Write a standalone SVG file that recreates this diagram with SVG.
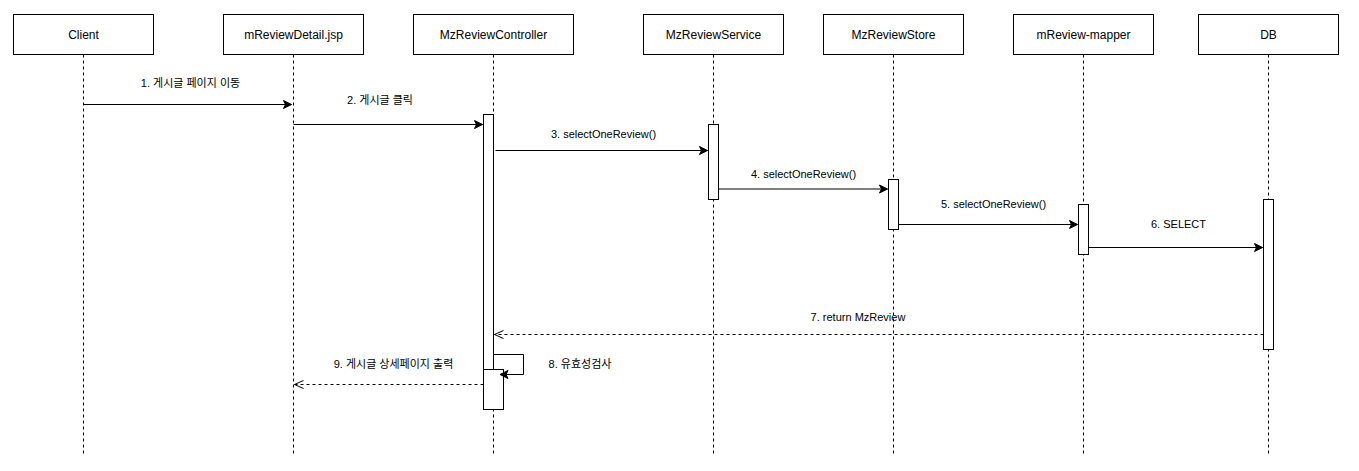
<svg xmlns="http://www.w3.org/2000/svg" width="1359" height="471" viewBox="0 0 1359 471">
<style>
.hdr{fill:#fff;stroke:#000;stroke-width:1}
.ht{font-family:"Liberation Sans","Noto Sans CJK KR",sans-serif;font-size:12px;fill:#000;text-anchor:middle}
.lt{font-family:"Liberation Sans","Noto Sans CJK KR",sans-serif;font-size:11px;fill:#000;text-anchor:middle}
.life{stroke:#000;stroke-width:1;stroke-dasharray:3 3;fill:none}
.act{fill:#fff;stroke:#000;stroke-width:1}
.call{stroke:#000;stroke-width:1;fill:none;marker-end:url(#block)}
.ret{stroke:#000;stroke-width:1;fill:none;stroke-dasharray:3 3;marker-end:url(#open)}
</style>
<defs>
<marker id="block" markerUnits="userSpaceOnUse" markerWidth="10" markerHeight="10" refX="8" refY="4" orient="auto" overflow="visible">
<path d="M0,0 L8,4 L0,8 L2,4 Z" fill="#000" stroke="#000" stroke-width="1"/>
</marker>
<marker id="open" markerUnits="userSpaceOnUse" markerWidth="12" markerHeight="12" refX="9" refY="4" orient="auto" overflow="visible">
<path d="M0,0 L9,4 L0,8" fill="none" stroke="#000" stroke-width="1"/>
</marker>
</defs>
<rect width="1359" height="471" fill="#fff"/>

<g id="lifelines">
<line class="life" x1="83.5" y1="54.5" x2="83.5" y2="453.5"/>
<line class="life" x1="293.5" y1="54.5" x2="293.5" y2="453.5"/>
<line class="life" x1="493.5" y1="54.5" x2="493.5" y2="453.5"/>
<line class="life" x1="713.5" y1="54.5" x2="713.5" y2="453.5"/>
<line class="life" x1="893.5" y1="54.5" x2="893.5" y2="453.5"/>
<line class="life" x1="1083.5" y1="54.5" x2="1083.5" y2="453.5"/>
<line class="life" x1="1268.5" y1="54.5" x2="1268.5" y2="453.5"/>
</g>

<g id="node-client">
<rect class="hdr" x="13.5" y="14.5" width="140" height="40"/>
<text class="ht" x="83.5" y="38.5">Client</text>
</g>
<g id="node-detailjsp">
<rect class="hdr" x="223.5" y="14.5" width="140" height="40"/>
<text class="ht" x="293.5" y="38.5">mReviewDetail.jsp</text>
</g>
<g id="node-controller">
<rect class="hdr" x="413.5" y="14.5" width="160" height="40"/>
<text class="ht" x="493.5" y="38.5">MzReviewController</text>
</g>
<g id="node-service">
<rect class="hdr" x="643.5" y="14.5" width="140" height="40"/>
<text class="ht" x="713.5" y="38.5">MzReviewService</text>
</g>
<g id="node-store">
<rect class="hdr" x="823.5" y="14.5" width="140" height="40"/>
<text class="ht" x="893.5" y="38.5">MzReviewStore</text>
</g>
<g id="node-mapper">
<rect class="hdr" x="1013.5" y="14.5" width="140" height="40"/>
<text class="ht" x="1083.5" y="38.5">mReview-mapper</text>
</g>
<g id="node-db">
<rect class="hdr" x="1198.5" y="14.5" width="140" height="40"/>
<text class="ht" x="1268.5" y="38.5">DB</text>
</g>

<g id="activations">
<rect class="act" x="483.5" y="114.5" width="10" height="255"/>
<rect class="act" x="708.5" y="124.5" width="10" height="75"/>
<rect class="act" x="888.5" y="179.5" width="10" height="50"/>
<rect class="act" x="1078.5" y="204.5" width="10" height="50"/>
<rect class="act" x="1263.5" y="199.5" width="10" height="150"/>
<rect class="act" x="483.5" y="369.5" width="20" height="40"/>
</g>

<g id="connectors">
<line class="call" x1="83.5" y1="104.5" x2="291.5" y2="104.5"/>
<line class="call" x1="293.5" y1="124.5" x2="482.5" y2="124.5"/>
<line class="call" x1="495.5" y1="150.5" x2="707.5" y2="150.5"/>
<line class="call" x1="718.5" y1="189" x2="887.5" y2="189"/>
<line class="call" x1="898.5" y1="224.5" x2="1077.5" y2="224.5"/>
<line class="call" x1="1088.5" y1="247.5" x2="1262.5" y2="247.5"/>
<line class="ret" x1="1263.5" y1="334.5" x2="494.5" y2="334.5"/>
<polyline class="call" points="493.5,354.5 523.5,354.5 523.5,374.5 500,374.5"/>
<line class="ret" x1="483.5" y1="384.5" x2="294.5" y2="384.5"/>
</g>

<g id="labels">
<text class="lt" x="190.5" y="86.5">1. 게시글 페이지 이동</text>
<text class="lt" x="380" y="104">2. 게시글 클릭</text>
<text class="lt" x="603.5" y="138">3. selectOneReview()</text>
<text class="lt" x="803.5" y="178">4. selectOneReview()</text>
<text class="lt" x="993.5" y="208">5. selectOneReview()</text>
<text class="lt" x="1178.5" y="228">6. SELECT</text>
<text class="lt" x="858" y="321">7. return MzReview</text>
<text class="lt" x="580" y="368">8. 유효성검사</text>
<text class="lt" x="393.5" y="368">9. 게시글 상세페이지 출력</text>
</g>
</svg>
